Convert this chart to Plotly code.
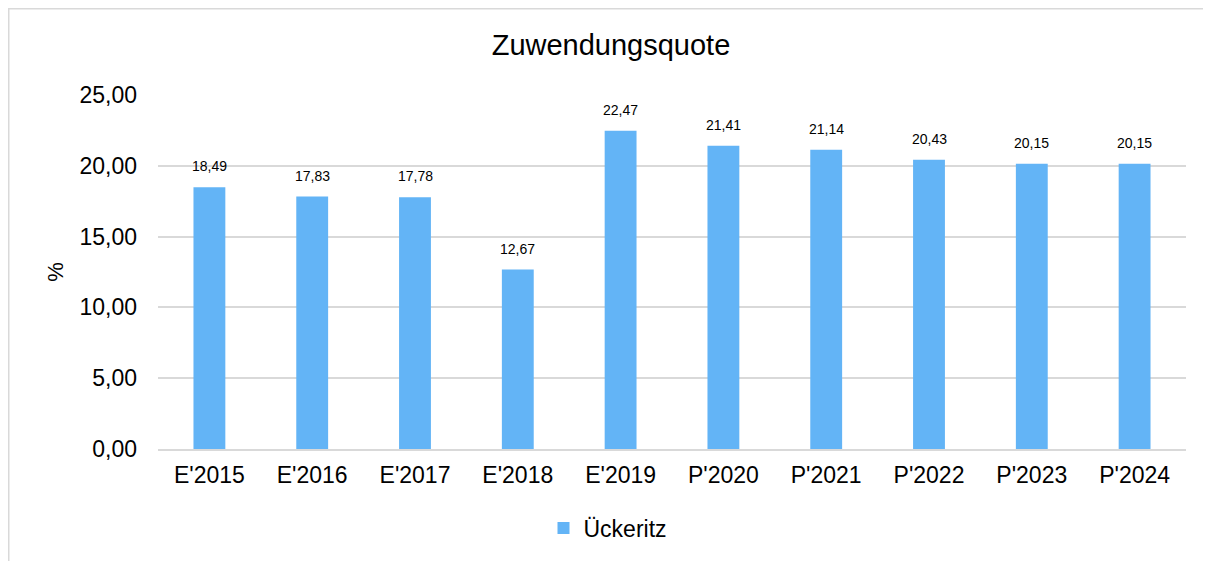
import plotly.graph_objects as go

categories = ["E'2015", "E'2016", "E'2017", "E'2018", "E'2019", "P'2020", "P'2021", "P'2022", "P'2023", "P'2024"]
values = [18.49, 17.83, 17.78, 12.67, 22.47, 21.41, 21.14, 20.43, 20.15, 20.15]
series_name = "Ückeritz"
title_text = "Zuwendungsquote"
y_title = "%"

BAR = "#63b4f6"
GRID = "#d9d9d9"
FONT = "Liberation Sans, Arial, sans-serif"

W, H = 1203, 553
L, R, T, B = 150, 25, 87, 112
PW, PH = W - L - R, H - T - B

fig = go.Figure()
fig.add_trace(go.Bar(
    x=categories, y=values, name=series_name,
    marker=dict(color=BAR, line=dict(width=0)),
    showlegend=True,
))

for c, v in zip(categories, values):
    fig.add_annotation(x=c, y=v, text=f"{v:.2f}".replace(".", ","),
                       showarrow=False, yanchor="bottom", yshift=11,
                       font=dict(size=14, color="#000000", family=FONT))

fig.update_layout(
    width=W, height=H,
    margin=dict(l=L, r=R, t=T, b=B),
    paper_bgcolor="white", plot_bgcolor="white",
    separators=",.",
    bargap=0.69,
    font=dict(family=FONT, color="#000000"),
    title=dict(text=title_text, x=603 / W, xanchor="center",
               y=1 - 37 / H, yanchor="middle",
               font=dict(size=29, family=FONT, color="#000000")),
    legend=dict(orientation="h", x=(600 - L) / PW, xanchor="center", y=-(520 - (T + PH)) / PH, yanchor="middle",
                font=dict(size=23, family=FONT), itemwidth=30, itemsizing="constant"),
    xaxis=dict(showgrid=False, showline=True, linecolor=GRID, linewidth=1.5,
               tickfont=dict(size=23, family=FONT), ticks="", ticklabelstandoff=5),
    yaxis=dict(range=[0, 25], dtick=5, tickformat=".2f", showgrid=True, gridcolor=GRID,
               gridwidth=1.5, zeroline=False, showline=False, ticks="",
               tickfont=dict(size=23, family=FONT), ticklabelstandoff=20,
               title=dict(text=y_title, font=dict(size=22, family=FONT), standoff=9)),
)

fig.add_shape(type="rect", xref="paper", yref="paper",
              x0=(-L + 0.75) / PW, x1=1.1, y0=-0.5, y1=(T + PH - 0.75) / PH,
              line=dict(color="#d9d9d9", width=1.5), fillcolor="rgba(0,0,0,0)", layer="below")

fig.write_html("out.html")
